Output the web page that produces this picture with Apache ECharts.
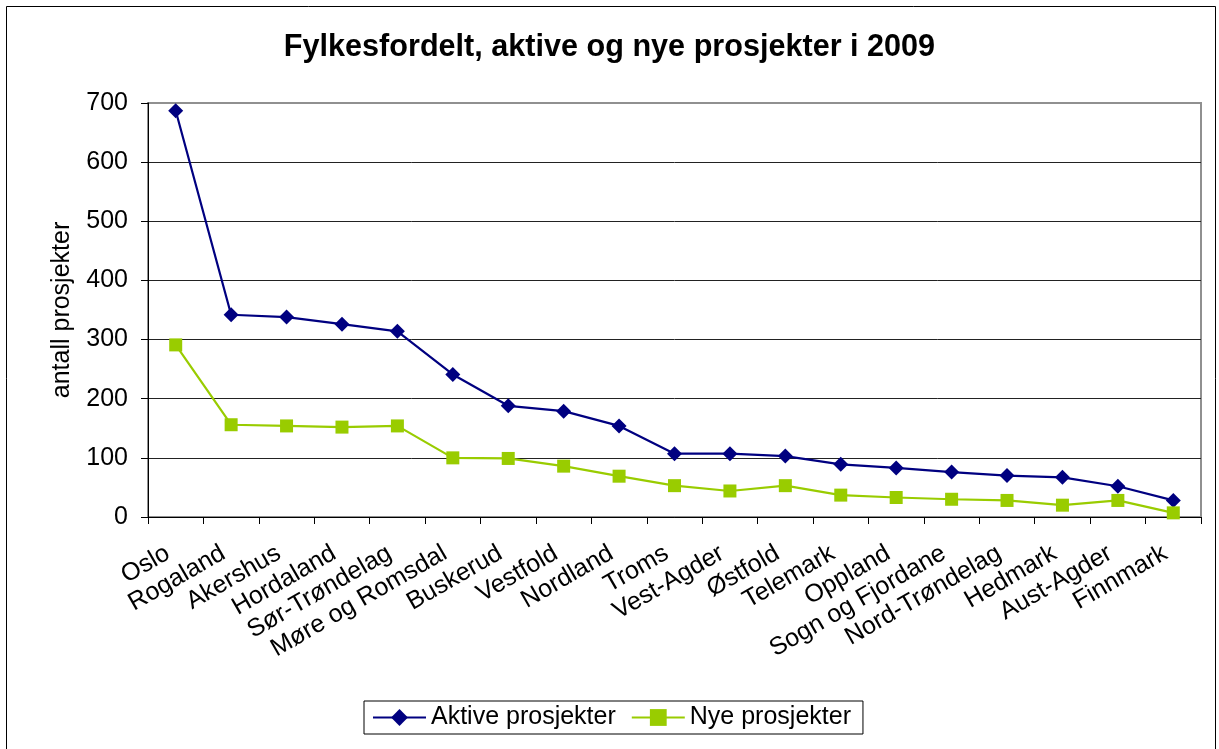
<!DOCTYPE html>
<html>
<head>
<meta charset="utf-8">
<script src="https://cdn.jsdelivr.net/npm/echarts@6/dist/echarts.min.js"></script>
<style>html,body{margin:0;padding:0;background:#fff}#c{width:1219px;height:749px}</style>
</head>
<body>
<div id="c"></div>
<script>
const categories = ["Oslo","Rogaland","Akershus","Hordaland","Sør-Trøndelag","Møre og Romsdal","Buskerud","Vestfold","Nordland","Troms","Vest-Agder","Østfold","Telemark","Oppland","Sogn og Fjordane","Nord-Trøndelag","Hedmark","Aust-Agder","Finnmark"];
const aktive = [687,342,338,326,314,241,188,179,154,107,107,103,89,83,76,70,67,52,28];
const nye = [291,156,154,152,154,100,99,86,69,53,44,53,37,33,30,28,20,28,7];
const yTicks = [0,100,200,300,400,500,600,700];

const chart = echarts.init(document.getElementById('c'), null, {renderer:'canvas'});
const font = 'Liberation Sans, Arial, sans-serif';
chart.setOption({
  animation:false,
  backgroundColor:'#fff',
  textStyle:{fontFamily:font},
  title:{text:'Fylkesfordelt, aktive og nye prosjekter i 2009',left:'center',top:27,
    textStyle:{fontFamily:font,fontSize:30.6,fontWeight:'bold',color:'#000'}},
  graphic:[{type:'rect',shape:{x:6.5,y:6.5,width:1209,height:800},style:{fill:null,stroke:'#000',lineWidth:1},silent:true}],
  grid:{left:148,top:103,right:18,bottom:232,show:true,borderColor:'#909090',borderWidth:2,backgroundColor:'transparent'},
  legend:{left:364,top:701,padding:[4,12,4,8],itemGap:15,itemWidth:53,itemHeight:21,
    borderColor:'#000',borderWidth:1,
    textStyle:{fontFamily:font,fontSize:25,color:'#000'},
    data:['Aktive prosjekter','Nye prosjekter']},
  xAxis:{type:'category',data:categories,boundaryGap:true,
    axisLine:{lineStyle:{color:'#000',width:1}},
    axisTick:{show:true,length:7,lineStyle:{color:'#000'}},
    axisLabel:{interval:0,rotate:30,margin:30,padding:[0,9,0,0],fontFamily:font,fontSize:25,color:'#000',hideOverlap:false}},
  yAxis:{type:'value',min:yTicks[0],max:yTicks[yTicks.length-1],interval:100,
    name:'antall prosjekter',nameLocation:'middle',nameGap:73,nameRotate:90,
    nameTextStyle:{fontFamily:font,fontSize:25,color:'#000'},
    axisLine:{show:true,lineStyle:{color:'#000',width:1}},
    axisTick:{show:true,length:7,lineStyle:{color:'#000'}},
    axisLabel:{margin:20,fontFamily:font,fontSize:25,color:'#000',formatter:v=>yTicks.includes(v)?String(v):''},
    splitLine:{show:true,lineStyle:{color:['#222','#222','#222','#222','#222','#222','#222','#909090'],width:1}}},
  series:[
    {name:'Aktive prosjekter',type:'line',data:aktive,symbol:'diamond',symbolSize:15,
      lineStyle:{color:'#000080',width:2.2},itemStyle:{color:'#000080'}},
    {name:'Nye prosjekter',type:'line',data:nye,symbol:'rect',symbolSize:13,
      lineStyle:{color:'#99CC00',width:2.2},itemStyle:{color:'#99CC00'}}
  ]
});
</script>
</body>
</html>
